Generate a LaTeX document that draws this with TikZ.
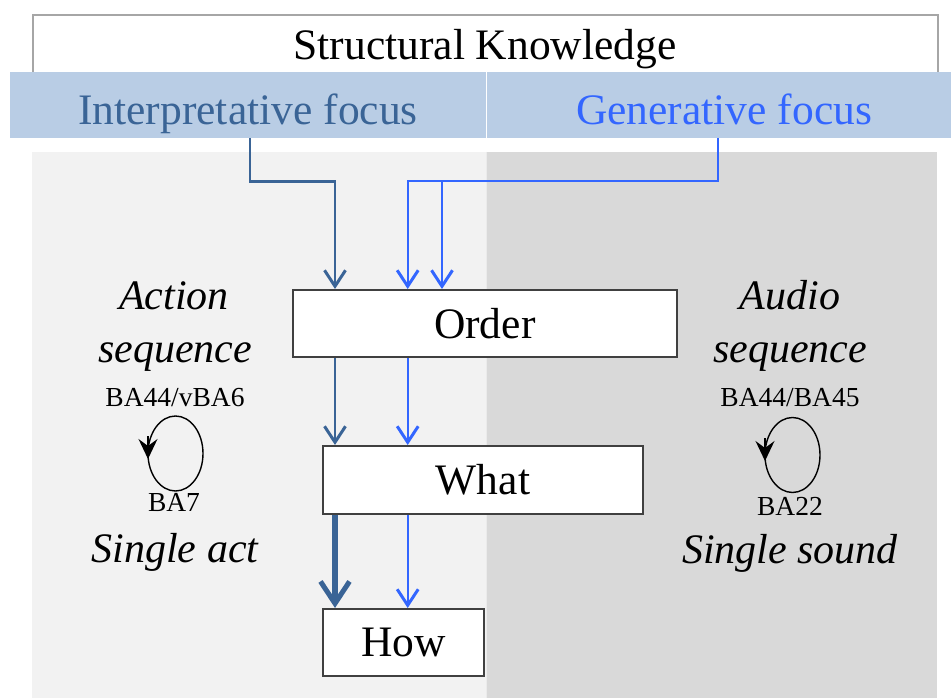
\documentclass[tikz,border=0pt]{standalone}
\usepackage{fontspec}
\setmainfont{Liberation Serif}
\usetikzlibrary{arrows.meta}
\definecolor{darkb}{HTML}{3A6496}
\definecolor{brightb}{HTML}{3366FF}
\definecolor{bandc}{HTML}{B9CDE5}
\definecolor{lpanel}{HTML}{F2F2F2}
\definecolor{rpanel}{HTML}{D9D9D9}
\definecolor{boxgray}{HTML}{404040}
\definecolor{topgray}{HTML}{A6A6A6}
\tikzset{
  bigtext/.style={font=\fontsize{43.5}{50}\selectfont, inner sep=0pt, anchor=base},
  itext/.style={font=\fontsize{42}{48}\selectfont\itshape, inner sep=0pt, anchor=base},
  smalltext/.style={font=\fontsize{27.5}{32}\selectfont, inner sep=0pt, anchor=base},
  boxn/.style={draw=boxgray, line width=2pt, fill=white, inner sep=0pt, font=\fontsize{43.5}{50}\selectfont},
  dk/.style={draw=darkb, line width=2.5pt, -{Straight Barb[length=16pt,width=21pt,line width=3pt]}},
  dkthick/.style={draw=darkb, line width=5.5pt, -{Straight Barb[length=22pt,width=29pt,line width=5pt]}},
  br/.style={draw=brightb, line width=2pt, -{Straight Barb[length=16pt,width=21pt,line width=3pt]}},
  loopline/.style={draw=black, line width=1.4pt},
  looparrow/.style={draw=black, line width=1.4pt, -{Stealth[length=20pt,width=19pt,inset=7pt]}}
}
\begin{document}
\begin{tikzpicture}[x=1pt,y=-1pt]
\useasboundingbox (0,0) rectangle (951,698);
\fill[white] (0,0) rectangle (951,698);
% panels
\fill[lpanel] (32,152) rectangle (486,698);
\fill[rpanel] (487,152) rectangle (937,698);
\draw[white!92!black, line width=1pt] (486.5,152) -- (486.5,698);
% top box
\draw[topgray, line width=1.5pt, fill=white] (33,15) rectangle (938,80);
\node[bigtext] (sk) at (485,60) {Structural Knowledge};
% band
\fill[bandc] (10,72) rectangle (951,138);
\draw[white, line width=1pt] (486,72) -- (486,138);
\node[bigtext, text=darkb] (interp) at (248,125) {Interpretative focus};
\node[bigtext, text=brightb] (gen) at (724,125) {Generative focus};
% boxes
\node[boxn, minimum width=384.5pt, minimum height=67pt] (order) at (484.8,323.5) {Order};
\node[boxn, minimum width=320pt, minimum height=68pt] (what) at (483,480) {What};
\node[boxn, minimum width=161pt, minimum height=67pt] (how) at (403.5,642.5) {How};
% coordinates
\coordinate (iout) at (250,138);
\coordinate (gout) at (718,138);
\coordinate (ij) at (335,181.5);
\coordinate (gj) at (407.7,181.5);
\coordinate (gk) at (442,181.5);
% connectors
\draw[dk] (iout) |- (ij) -- (order.north -| ij);
\draw[br] (gout) |- (gj) -- (order.north -| gj);
\draw[br] (gk) -- (order.north -| gk);
\draw[dk] (order.south -| ij) -- (what.north -| ij);
\draw[br] (order.south -| gj) -- (what.north -| gj);
\draw[dkthick] (what.south -| ij) -- (how.north -| ij);
\draw[br] (what.south -| gj) -- (how.north -| gj);
% left side
\node[itext] (act1) at (174,309) {Action};
\node[itext] (act2) at (175,362) {sequence};
\node[smalltext] (ba446) at (175,406.5) {BA44/vBA6};
\draw[loopline] (175.5,453.5) ellipse [x radius=27.5, y radius=37.5];
\draw[looparrow] (148,436) -- (148,459);
\node[smalltext] (ba7) at (174,511) {BA7};
\node[itext] (sact) at (175,562) {Single act};
% right side
\node[itext] (aud1) at (790,309) {Audio};
\node[itext] (aud2) at (790,362) {sequence};
\node[smalltext] (ba445) at (790,406.5) {BA44/BA45};
\draw[loopline] (792.5,455) ellipse [x radius=27.5, y radius=37.5];
\draw[looparrow] (765,438) -- (765,461);
\node[smalltext] (ba22) at (790,515) {BA22};
\node[itext] (ssnd) at (790,563) {Single sound};
\end{tikzpicture}
\end{document}
